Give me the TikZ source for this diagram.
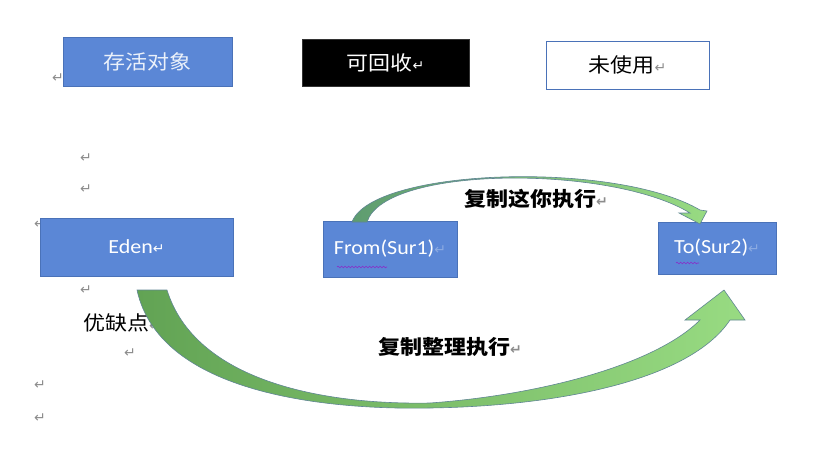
\documentclass[tikz,border=0pt]{standalone}
\usepackage{fontspec}
\setmainfont{Carlito}[FakeStretch=1.1]
\newfontfamily\cjk{Noto Sans CJK SC}[FakeStretch=1.1]
\newfontfamily\retfont{DejaVu Sans}
\usetikzlibrary{decorations.pathmorphing}
\definecolor{boxblue}{HTML}{5B87D6}
\definecolor{boxedge}{HTML}{4A72B8}
\definecolor{topdark}{HTML}{5E9C70}
\definecolor{arrowdark}{HTML}{62A354}
\definecolor{arrowlight}{HTML}{98DB82}
\definecolor{arrowedge}{HTML}{5F8593}
\definecolor{markgray}{HTML}{8C8C8C}
\definecolor{wavepurple}{HTML}{8A2BC8}
\tikzset{
  box/.style={draw=boxedge, fill=boxblue, text=white, inner sep=0pt, line width=0.8pt},
  blockarrow/.style={draw=arrowedge, line width=0.6pt},
  wavy/.style={wavepurple, line width=0.6pt, decorate,
    decoration={snake, amplitude=0.8pt, segment length=3.5pt}}
}
\newcommand*{\boxfont}{\fontsize{20}{20}\selectfont}
\newcommand*{\retmark}[1][markgray]{{\retfont\fontsize{14}{14}\selectfont\color{#1}↵}}

\begin{document}
\begin{tikzpicture}[x=1pt,y=-1pt]
\useasboundingbox (0,0) rectangle (837,471);
% paragraph marks down the left
\node (r1) at (58,78) {\retmark};
\node (r2) at (86,158) {\retmark};
\node (r3) at (86,189) {\retmark};
\node (r4) at (40,224) {\retmark};
\node (r5) at (86,290) {\retmark};
\node (r6) at (130,353) {\retmark};
\node (r7) at (40,385) {\retmark};
\node (r8) at (40,418) {\retmark};
\node (pros) at (122,323) {\cjk\boxfont 优缺点\retmark};
% legend boxes
\node[box, minimum width=169pt, minimum height=49pt, text=white!88!boxblue] (live) at (147.5,61.5) {\cjk\boxfont 存活对象};
\node[box, fill=black, draw=black!80, minimum width=167pt, minimum height=47pt] (recyc) at (385.5,62.5) {\cjk\boxfont 可回收\retmark[white]};
\node[box, fill=white, text=black, minimum width=163pt, minimum height=48pt] (unused) at (627.5,65) {\cjk\boxfont 未使用\retmark};
% memory areas
\node[box, minimum width=193pt, minimum height=58pt] (eden) at (136.5,247) {\boxfont Eden\retmark[white]};
\node[box, minimum width=134pt, minimum height=56pt] (from) at (390,249) {\boxfont From(Sur1)\retmark[boxblue!70]};
\node[box, minimum width=118pt, minimum height=52pt] (to) at (717,248) {\boxfont To(Sur2)\retmark[boxblue!70]};
\draw[wavy] (337,267) -- (387,267);
\draw[wavy] (676,263) -- (699,263);
% copy between survivors
\draw[blockarrow, left color=topdark, right color=arrowlight]
  (352,222) .. controls (372,168) and (615,160) .. (700,210) -- (707,211) -- (700,224)
  -- (679,213) -- (690,213) .. controls (612,165) and (385,165) .. (367,222) -- cycle;
\node[font=\cjk\bfseries\boxfont] (copytop) at (536,199) {复制这你执行\retmark};
% copy out of eden
\draw[blockarrow, left color=arrowdark, right color=arrowlight]
  (137,290) .. controls (160,395) and (330,410) .. (430,408)
  .. controls (560,406) and (690,380) .. (730,320) -- (745,320) -- (724,290)
  -- (685,320) -- (700,320) .. controls (655,365) and (540,395) .. (430,403)
  .. controls (320,405) and (195,380) .. (167,290) -- cycle;
\node[font=\cjk\bfseries\boxfont] (copybot) at (450,347) {复制整理执行\retmark};
\end{tikzpicture}
\end{document}
